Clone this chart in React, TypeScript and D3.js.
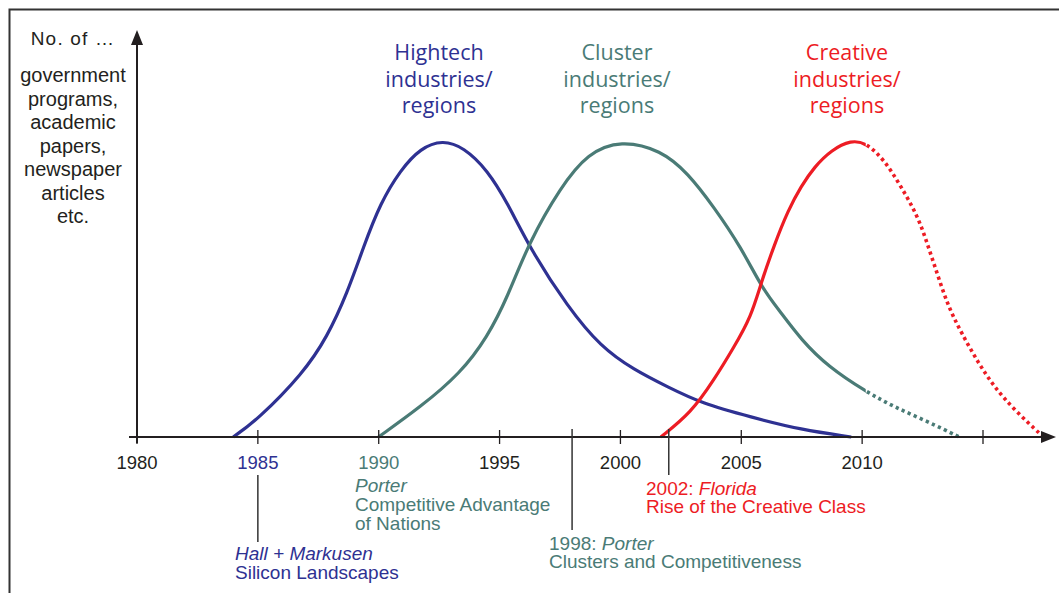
import React from 'react';
import { scaleLinear, line, curveBasis } from 'd3';

// years / relative "popularity" (0..100)
const hightechYears = [1983.98, 1984.97, 1986.88, 1987.87, 1988.7, 1989.37, 1990.07, 1990.9, 1991.73, 1992.64, 1993.51, 1994.5, 1995.33, 1996.29, 1997.82, 1999.19, 2000.56, 2001.97, 2003.33, 2005.4, 2007.48, 2009.55];
const hightechValues = [0, 5.7, 21.5, 33.7, 48.5, 64, 78.8, 89.9, 97.3, 100, 97.6, 89.9, 78.8, 63, 43.8, 30.3, 22.6, 16.8, 11.4, 6.7, 2.4, 0];

const clusterYears = [1989.99, 1991.73, 1993.39, 1994.5, 1995.33, 1996.2, 1997.53, 1998.65, 2000.02, 2001.68, 2002.79, 2003.87, 2004.99, 2005.9, 2006.65, 2007.48, 2008.6, 2010.17, 2011.33, 2012.74, 2014.02];
const clusterValues = [0, 10.1, 21.5, 33.7, 47.1, 65.3, 84.2, 95.6, 100, 96.6, 88.9, 77.4, 63.9, 49.5, 41.8, 32.7, 23.6, 15.2, 10.1, 5.1, 0];

const creativeYears = [2001.67, 2002.92, 2003.87, 2004.7, 2005.4, 2005.82, 2006.36, 2006.94, 2007.48, 2008.02, 2008.72, 2009.55, 2010.17, 2010.92, 2011.62, 2012.32, 2012.74, 2013.15, 2013.57, 2014.11, 2014.81, 2015.47, 2016.3, 2017.5];
const creativeValues = [0, 8.1, 19.2, 30.3, 40.4, 51.9, 64.6, 76.4, 84.5, 90.9, 96.6, 100, 99, 93.3, 84.2, 74.1, 64, 53.9, 43.8, 35, 24.9, 16.8, 9.1, 0];

const tickYears = [1980, 1985, 1990, 1995, 2000, 2005, 2010, 2015];
const tickLabels = ['1980', '1985', '1990', '1995', '2000', '2005', '2010', ''];

const yAxisLabel = ['government', 'programs,', 'academic', 'papers,', 'newspaper', 'articles', 'etc.'];
const hightechTitle = ['Hightech', 'industries/', 'regions'];
const clusterTitle = ['Cluster', 'industries/', 'regions'];
const creativeTitle = ['Creative', 'industries/', 'regions'];

const forecastFrom = 2010.15; // after this the lines are dotted

const BLUE = '#2e3192';
const TEAL = '#4a7b76';
const RED = '#ed1c24';
const INK = '#231f20';

const W = 1059;
const H = 593;

const xScale = scaleLinear().domain([1980, 2015]).range([137, 983]);
const yScale = scaleLinear().domain([0, 100]).range([437, 140]);

const zip = (xs: number[], ys: number[]) => xs.map((x, i) => [x, ys[i]] as [number, number]);

const lineFn = line<[number, number]>()
	.x((d) => xScale(d[0]))
	.y((d) => yScale(d[1]))
	.curve(curveBasis);

const series = [
	{ id: 'hightech', color: BLUE, data: zip(hightechYears, hightechValues) },
	{ id: 'cluster', color: TEAL, data: zip(clusterYears, clusterValues) },
	{ id: 'creative', color: RED, data: zip(creativeYears, creativeValues) },
];

const sans = '"Liberation Sans", Arial, Helvetica, sans-serif';
const titleFont = '"Open Sans", "Noto Sans", sans-serif';

export default function App() {
	const x0 = xScale(1980);
	const y0 = yScale(0);
	const xSplit = xScale(forecastFrom);
	const axisEnd = 1056;
	const yTop = 30;

	const title = (lines: string[], cx: number, color: string) => (
		<text fontFamily={titleFont} fontSize={21.5} fill={color} textAnchor="middle">
			{lines.map((t, i) => (
				<tspan key={i} x={cx} y={60 + i * 26.5}>{t}</tspan>
			))}
		</text>
	);

	return (
		<svg width={W} height={H} style={{ position: 'absolute', left: 0, top: 0, background: '#fff' }}>
			<defs>
				<clipPath id="solid">
					<rect x={0} y={0} width={xSplit} height={H} />
				</clipPath>
				<clipPath id="dotted">
					<rect x={xSplit} y={0} width={W - xSplit} height={H} />
				</clipPath>
			</defs>

			{/* frame */}
			<path d={`M9.5,${H} V9.5 H${W}`} fill="none" stroke="#333" strokeWidth={2} />

			{/* y axis label */}
			<text x={73} y={45} fontFamily={sans} fontSize={19} fill={INK} textAnchor="middle" letterSpacing={1.2}>No. of …</text>
			<text fontFamily={sans} fontSize={20} fill={INK} textAnchor="middle">
				{yAxisLabel.map((t, i) => (
					<tspan key={i} x={73} y={82 + i * 23.5}>{t}</tspan>
				))}
			</text>

			{/* titles */}
			{title(hightechTitle, 439, BLUE)}
			{title(clusterTitle, 617, TEAL)}
			{title(creativeTitle, 847, RED)}

			{/* curves */}
			{series.map((s) => (
				<g key={s.id}>
					<path d={lineFn(s.data) || ''} fill="none" stroke={s.color} strokeWidth={3.2} clipPath="url(#solid)" />
					<path d={lineFn(s.data) || ''} fill="none" stroke={s.color} strokeWidth={3.6} strokeDasharray="3.2 3.4" clipPath="url(#dotted)" />
				</g>
			))}

			{/* axes */}
			<line x1={x0} y1={y0 + 6} x2={x0} y2={yTop + 12} stroke={INK} strokeWidth={2} />
			<path d={`M${x0},${yTop} L${x0 - 6},${yTop + 15} L${x0 + 6},${yTop + 15} Z`} fill={INK} />
			<line x1={x0 - 8} y1={y0} x2={axisEnd - 12} y2={y0} stroke={INK} strokeWidth={2} />
			<path d={`M${axisEnd},${y0} L${axisEnd - 15},${y0 - 6} L${axisEnd - 15},${y0 + 6} Z`} fill={INK} />

			{tickYears.map((yr, i) => (
				<g key={yr}>
					<line x1={xScale(yr)} x2={xScale(yr)} y1={y0 - 7} y2={y0 + 7} stroke={INK} strokeWidth={1.3} />
					<text x={xScale(yr)} y={469} fontFamily={sans} fontSize={18.5} textAnchor="middle"
						fill={yr === 1985 ? BLUE : yr === 1990 ? TEAL : INK}>{tickLabels[i]}</text>
				</g>
			))}

			{/* milestone markers */}
			<line x1={xScale(1985)} x2={xScale(1985)} y1={475} y2={542} stroke="#333" strokeWidth={1.5} />
			<line x1={xScale(1998)} x2={xScale(1998)} y1={429} y2={530} stroke="#333" strokeWidth={1.5} />
			<line x1={xScale(2002)} x2={xScale(2002)} y1={429} y2={475} stroke="#333" strokeWidth={1.5} />

			{/* milestone texts */}
			<text fontFamily={sans} fontSize={19} fill={TEAL}>
				<tspan x={355} y={492} fontStyle="italic">Porter</tspan>
				<tspan x={355} y={511}>Competitive Advantage</tspan>
				<tspan x={355} y={530}>of Nations</tspan>
			</text>
			<text fontFamily={sans} fontSize={19} fill={BLUE}>
				<tspan x={235} y={560} fontStyle="italic">Hall + Markusen</tspan>
				<tspan x={235} y={579}>Silicon Landscapes</tspan>
			</text>
			<text fontFamily={sans} fontSize={19} fill={TEAL}>
				<tspan x={549} y={550}>1998: <tspan fontStyle="italic">Porter</tspan></tspan>
				<tspan x={549} y={568}>Clusters and Competitiveness</tspan>
			</text>
			<text fontFamily={sans} fontSize={19} fill={RED}>
				<tspan x={646} y={495}>2002: <tspan fontStyle="italic">Florida</tspan></tspan>
				<tspan x={646} y={513}>Rise of the Creative Class</tspan>
			</text>
		</svg>
	);
}
